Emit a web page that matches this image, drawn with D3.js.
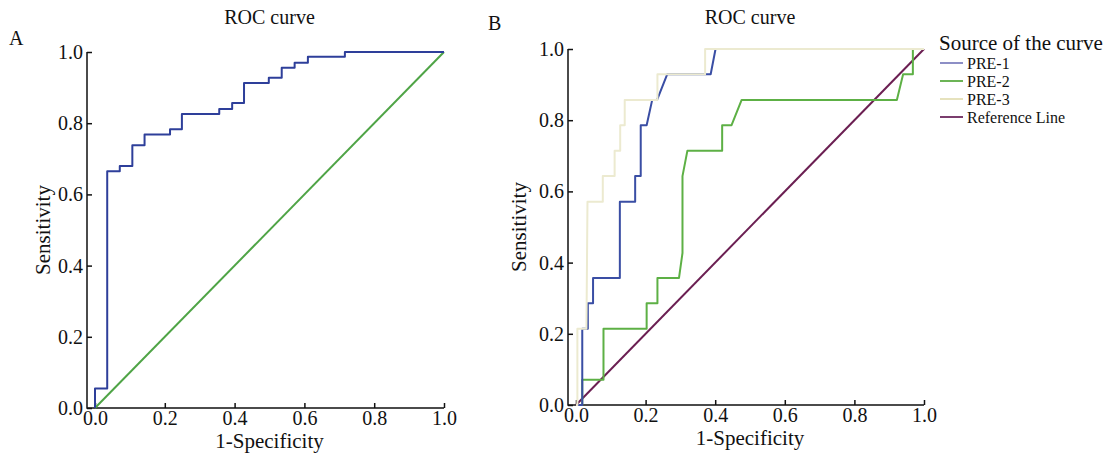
<!DOCTYPE html>
<html>
<head>
<meta charset="utf-8">
<script src="https://cdn.jsdelivr.net/npm/d3@7"></script>
<style>
    body { margin: 0; background: #fff; }
    text { font-family: "Liberation Serif", "Times New Roman", serif; fill: #111; }
</style>
</head>
<body>
<div id="chart"></div>
<script>
const width = 1110, height = 456;

const ticks = [0, 0.2, 0.4, 0.6, 0.8, 1.0];

// Panel A: single ROC curve (corners of the step curve)
const rocA_fpr = [0, 0, 0.035, 0.071, 0.107, 0.142, 0.215, 0.249, 0.356, 0.393, 0.427, 0.498, 0.535, 0.572, 0.61, 0.716, 1.0];
const rocA_tpr = [0, 0.055, 0.665, 0.68, 0.738, 0.768, 0.783, 0.826, 0.84, 0.857, 0.913, 0.928, 0.956, 0.970, 0.987, 1.0, 1.0];

// Panel B: three curves + reference line
const pre1_fpr = [0, 0.018, 0.018, 0.034, 0.034, 0.049, 0.049, 0.126, 0.126, 0.17, 0.17, 0.186, 0.186, 0.203, 0.219, 0.233, 0.262, 0.387, 0.401, 1.0];
const pre1_tpr = [0, 0, 0.214, 0.214, 0.286, 0.286, 0.357, 0.357, 0.571, 0.571, 0.643, 0.643, 0.786, 0.786, 0.857, 0.857, 0.929, 0.929, 1.0, 1.0];

const pre2_fpr = [0, 0.018, 0.018, 0.079, 0.079, 0.203, 0.203, 0.234, 0.234, 0.296, 0.306, 0.306, 0.32, 0.42, 0.42, 0.447, 0.476, 0.922, 0.94, 0.968, 0.968, 1.0];
const pre2_tpr = [0, 0, 0.071, 0.071, 0.214, 0.214, 0.286, 0.286, 0.357, 0.357, 0.427, 0.643, 0.714, 0.714, 0.786, 0.786, 0.857, 0.857, 0.929, 0.929, 1.0, 1.0];

const pre3_fpr = [0, 0.004, 0.004, 0.03, 0.033, 0.077, 0.077, 0.111, 0.111, 0.127, 0.127, 0.14, 0.14, 0.234, 0.234, 0.371, 0.371, 1.0];
const pre3_tpr = [0, 0, 0.214, 0.214, 0.571, 0.571, 0.643, 0.643, 0.714, 0.714, 0.786, 0.786, 0.857, 0.857, 0.929, 0.929, 1.0, 1.0];

const ref_fpr = [0, 1];
const ref_tpr = [0, 1];

const legendNames = ["PRE-1", "PRE-2", "PRE-3", "Reference Line"];
const legendColors = ["#8d8fc6", "#6cb456", "#e6e2bd", "#7b3d6e"];

let svg = d3.select("#chart")
    .append("svg")
    .attr("width", width)
    .attr("height", height);

function toPoints(fpr, tpr) {
    return fpr.map(function(d, i) { return [d, tpr[i]]; });
}

/**
 * Draw the axes, titles and labels of one panel, returns the scales
 */
function drawPanel(opt) {
    let x = d3.scaleLinear().domain([0, 1]).range([opt.x0, opt.x1]);
    let y = d3.scaleLinear().domain([0, 1]).range([opt.y0, opt.y1]);
    let axisX = opt.x0 - 8;

    let g = svg.append("g");

    let xAxis = g.append("g")
        .attr("transform", `translate(0, ${opt.y0})`)
        .call(d3.axisBottom(x).tickValues(ticks).tickFormat(d3.format(".1f"))
            .tickSizeInner(-5).tickSizeOuter(0).tickPadding(3));
    xAxis.select(".domain").remove();
    xAxis.selectAll("line").attr("stroke", "#111").attr("stroke-width", 1.5);
    xAxis.selectAll("text").style("font-size", "20px").attr("fill", "#111");

    let yAxis = g.append("g")
        .attr("transform", `translate(${axisX}, 0)`)
        .call(d3.axisLeft(y).tickValues(ticks).tickFormat(d3.format(".1f"))
            .tickSizeInner(-5).tickSizeOuter(0).tickPadding(4));
    yAxis.select(".domain").remove();
    yAxis.selectAll("line").attr("stroke", "#111").attr("stroke-width", 1.5);
    yAxis.selectAll("text").style("font-size", "20px").attr("fill", "#111");

    // axis lines, joined at the corner
    g.append("path")
        .attr("d", `M${axisX},${y(1)}V${opt.y0}H${x(1)}`)
        .attr("fill", "none")
        .attr("stroke", "#111")
        .attr("stroke-width", 1.5);

    g.append("text")
        .attr("x", (opt.x0 + opt.x1) / 2)
        .attr("y", opt.titleY)
        .style("text-anchor", "middle")
        .style("font-size", "20px")
        .text("ROC curve");

    g.append("text")
        .attr("x", (opt.x0 + opt.x1) / 2)
        .attr("y", opt.y0 + 40)
        .style("text-anchor", "middle")
        .style("font-size", "21px")
        .text("1-Specificity");

    g.append("text")
        .attr("transform", `translate(${opt.labelX}, ${(opt.y0 + opt.y1) / 2})rotate(-90)`)
        .style("text-anchor", "middle")
        .style("font-size", "21px")
        .text("Sensitivity");

    g.append("text")
        .attr("x", opt.letterX)
        .attr("y", opt.letterY)
        .style("font-size", "20px")
        .text(opt.letter);

    return {x: x, y: y, g: g};
}

function drawLine(p, fpr, tpr, color, curve) {
    let line = d3.line()
        .x(function(d) { return p.x(d[0]); })
        .y(function(d) { return p.y(d[1]); })
        .curve(curve || d3.curveLinear);
    p.g.append("path")
        .datum(toPoints(fpr, tpr))
        .attr("d", line)
        .attr("fill", "none")
        .attr("stroke", color)
        .attr("stroke-width", 2)
        .attr("stroke-linejoin", "round");
}

// panel A
let pA = drawPanel({x0: 95, x1: 444, y0: 408, y1: 52, titleY: 24, labelX: 50,
    letter: "A", letterX: 9, letterY: 45});
drawLine(pA, ref_fpr, ref_tpr, "#4fa446");
drawLine(pA, rocA_fpr, rocA_tpr, "#2e3f9a", d3.curveStepAfter);

// panel B
let pB = drawPanel({x0: 576, x1: 924, y0: 405, y1: 49, titleY: 24, labelX: 526,
    letter: "B", letterX: 488, letterY: 30});
drawLine(pB, ref_fpr, ref_tpr, "#6b1f52");
drawLine(pB, pre2_fpr, pre2_tpr, "#5db045");
drawLine(pB, pre1_fpr, pre1_tpr, "#3a4ea4");
drawLine(pB, pre3_fpr, pre3_tpr, "#ecead0");

// legend
let legend = svg.append("g").attr("transform", "translate(939, 0)");

legend.append("text")
    .attr("x", 0)
    .attr("y", 50)
    .style("font-size", "21px")
    .text("Source of the curve");

let items = legend.selectAll(".item")
    .data(legendNames)
    .enter()
    .append("g")
    .attr("class", "item")
    .attr("transform", function(d, i) { return `translate(0, ${63 + i * 18})`; });

items.append("line")
    .attr("x1", 1)
    .attr("x2", 24)
    .attr("stroke", function(d, i) { return legendColors[i]; })
    .attr("stroke-width", 2);

items.append("text")
    .attr("x", 28)
    .attr("y", 6)
    .style("font-size", "16px")
    .text(function(d) { return d; });
</script>
</body>
</html>
